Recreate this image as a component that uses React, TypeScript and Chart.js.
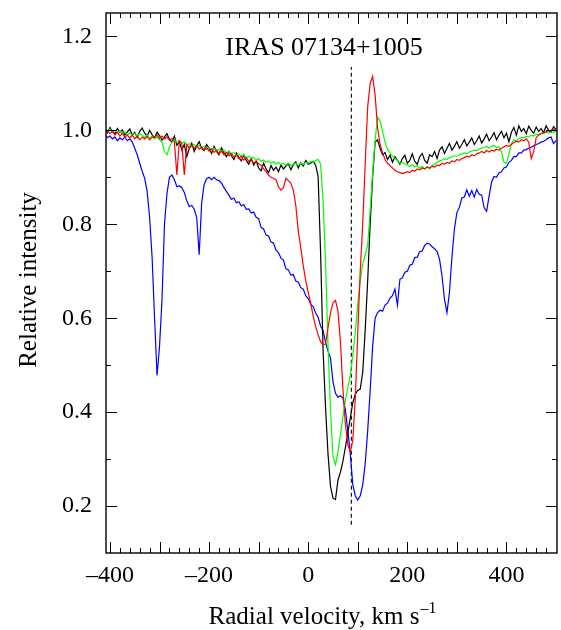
import React, { useEffect, useRef } from "react";
import { Chart, registerables } from "chart.js";

Chart.register(...registerables);

// Radial velocity grid, km/s
const VELOCITY = [
  -410, -405, -400, -395, -390, -385, -380, -375, -370, -365,
  -360, -355, -350, -345, -340, -335, -330, -325, -320, -315,
  -310, -305, -300, -295, -290, -285, -280, -275, -270, -265,
  -260, -255, -250, -245, -240, -235, -230, -225, -220, -215,
  -210, -205, -200, -195, -190, -185, -180, -175, -170, -165,
  -160, -155, -150, -145, -140, -135, -130, -125, -120, -115,
  -110, -105, -100, -95, -90, -85, -80, -75, -70, -65,
  -60, -55, -50, -45, -40, -35, -30, -25, -20, -15,
  -10, -5, 0, 5, 10, 15, 20, 25, 30, 35,
  40, 45, 50, 55, 60, 65, 70, 75, 80, 85,
  90, 95, 100, 105, 110, 115, 120, 125, 130, 135,
  140, 145, 150, 155, 160, 165, 170, 175, 180, 185,
  190, 195, 200, 205, 210, 215, 220, 225, 230, 235,
  240, 245, 250, 255, 260, 265, 270, 275, 280, 285,
  290, 295, 300, 305, 310, 315, 320, 325, 330, 335,
  340, 345, 350, 355, 360, 365, 370, 375, 380, 385,
  390, 395, 400, 405, 410, 415, 420, 425, 430, 435,
  440, 445, 450, 455, 460, 465, 470, 475, 480, 485,
  490, 495, 500,
];

const BLACK = [
  1.002, 0.995, 1.006, 0.997, 0.993, 1.004, 0.996, 1.001, 0.99, 0.997,
  1.003, 0.99, 0.996, 0.985, 0.998, 1.005, 0.994, 0.988, 1.0, 0.991,
  0.984, 0.996, 0.989, 0.979, 0.986, 0.993, 0.981, 0.975, 0.988, 0.968,
  0.976, 0.958, 0.97, 0.944, 0.962, 0.973, 0.955, 0.967, 0.976, 0.961,
  0.957, 0.97, 0.962, 0.951, 0.966, 0.955, 0.948, 0.963, 0.952, 0.944,
  0.955, 0.946, 0.938, 0.952, 0.942, 0.935, 0.948, 0.936, 0.928, 0.94,
  0.926, 0.935, 0.92, 0.914, 0.93, 0.918, 0.91, 0.925, 0.915, 0.922,
  0.912, 0.926, 0.918, 0.924, 0.929, 0.916, 0.927, 0.933, 0.92, 0.931,
  0.924, 0.936, 0.928, 0.93, 0.934, 0.926, 0.902, 0.74, 0.532, 0.41,
  0.31, 0.242, 0.217, 0.214, 0.255, 0.272, 0.295, 0.325, 0.356, 0.388,
  0.42, 0.438, 0.446, 0.449, 0.485, 0.575, 0.68, 0.8, 0.9, 0.975,
  0.98, 0.962, 0.948, 0.953, 0.938, 0.947, 0.932, 0.944, 0.936, 0.928,
  0.94, 0.947, 0.93, 0.936, 0.95, 0.934, 0.928, 0.944, 0.951, 0.936,
  0.93, 0.948, 0.944, 0.955, 0.94, 0.958, 0.965, 0.951, 0.962, 0.972,
  0.958, 0.966, 0.976, 0.962, 0.97, 0.98, 0.967, 0.975, 0.984, 0.97,
  0.978, 0.988, 0.973, 0.982, 0.992, 0.978, 0.986, 0.995, 0.98, 0.99,
  0.998, 0.984, 0.994, 0.976, 0.996, 1.006, 0.99, 1.01, 0.998, 1.004,
  0.993, 1.009, 1.0, 0.994, 1.007, 0.998, 1.004, 0.995, 1.01, 1.0,
  0.996, 1.008, 1.002,
];

const GREEN = [
  1.0, 0.997, 1.003, 0.996, 1.0, 0.995, 0.999, 0.993, 0.997, 0.99,
  0.995, 0.99, 0.994, 0.988, 0.993, 0.99, 0.985, 0.99, 0.984, 0.988,
  0.982, 0.986, 0.98, 0.975, 0.955, 0.948, 0.965, 0.975, 0.98, 0.975,
  0.978, 0.972, 0.976, 0.968, 0.972, 0.966, 0.97, 0.965, 0.968, 0.962,
  0.966, 0.96, 0.963, 0.96, 0.962, 0.956, 0.96, 0.955, 0.958, 0.952,
  0.955, 0.95, 0.953, 0.947, 0.95, 0.945, 0.948, 0.942, 0.945, 0.94,
  0.943, 0.937, 0.94, 0.934, 0.937, 0.932, 0.935, 0.93, 0.933, 0.928,
  0.932, 0.927, 0.93, 0.926, 0.93, 0.925, 0.928, 0.93, 0.926, 0.93,
  0.928, 0.932, 0.93, 0.934, 0.932, 0.936, 0.938, 0.928, 0.85, 0.72,
  0.54, 0.405, 0.305, 0.288, 0.315, 0.352, 0.39, 0.425, 0.452, 0.48,
  0.52, 0.57, 0.63, 0.68, 0.715, 0.735, 0.755, 0.83, 0.91, 0.98,
  1.028, 1.02, 0.998, 0.975, 0.96, 0.952, 0.945, 0.94, 0.936, 0.93,
  0.932, 0.928, 0.926, 0.923, 0.927, 0.922, 0.925, 0.92, 0.923, 0.918,
  0.922, 0.918, 0.925, 0.928, 0.932, 0.935, 0.937, 0.94, 0.938, 0.942,
  0.944, 0.946, 0.945, 0.948, 0.95, 0.952, 0.95, 0.954, 0.956, 0.958,
  0.957, 0.96, 0.962, 0.964, 0.966, 0.962, 0.966, 0.968, 0.964, 0.965,
  0.955, 0.932, 0.93, 0.95, 0.972, 0.98, 0.978, 0.982, 0.985, 0.984,
  0.987, 0.986, 0.99, 0.988, 0.992, 0.99, 0.994, 0.993, 0.996, 0.994,
  0.997, 0.996, 0.998,
];

const RED = [
  0.995, 1.0, 0.993, 0.998, 0.99, 0.996, 0.988, 0.994, 0.985, 0.99,
  0.984, 0.99, 0.982, 0.988, 0.98, 0.986, 0.982, 0.987, 0.98, 0.985,
  0.985, 0.99, 0.983, 0.988, 0.982, 0.986, 0.979, 0.983, 0.976, 0.905,
  0.978, 0.972, 0.905, 0.97, 0.962, 0.968, 0.962, 0.967, 0.96, 0.965,
  0.958, 0.963, 0.956, 0.96, 0.953, 0.958, 0.951, 0.956, 0.948, 0.953,
  0.946, 0.951, 0.943, 0.948, 0.94, 0.945, 0.937, 0.942, 0.934, 0.939,
  0.93, 0.934, 0.929, 0.926, 0.918, 0.912, 0.905, 0.9, 0.898, 0.895,
  0.88, 0.873, 0.878, 0.898, 0.893, 0.888, 0.872, 0.84, 0.785, 0.75,
  0.712, 0.68, 0.655, 0.632, 0.605, 0.582, 0.565, 0.55, 0.544, 0.545,
  0.58, 0.612, 0.633, 0.638, 0.615, 0.55, 0.45, 0.375, 0.33, 0.316,
  0.34, 0.43, 0.57, 0.7, 0.8, 0.93, 1.05, 1.1, 1.115, 1.075,
  1.005, 0.97, 0.952, 0.938, 0.93, 0.925, 0.92, 0.915, 0.912, 0.91,
  0.908, 0.91, 0.912, 0.91, 0.915, 0.913, 0.918, 0.916, 0.92, 0.918,
  0.922, 0.92, 0.924, 0.922, 0.926, 0.925, 0.93, 0.928, 0.932, 0.93,
  0.935, 0.933, 0.938, 0.936, 0.94, 0.942, 0.945, 0.943, 0.948, 0.946,
  0.95, 0.952, 0.955, 0.952, 0.957, 0.954, 0.958, 0.956, 0.96, 0.958,
  0.962, 0.965, 0.968, 0.966, 0.97, 0.974, 0.977, 0.975, 0.98, 0.978,
  0.982, 0.975, 0.94, 0.955, 0.985, 0.99, 0.993, 0.995, 0.997, 0.999,
  1.0, 1.002, 1.0,
];

const BLUE = [
  0.99, 0.985, 0.988, 0.982, 0.986, 0.978, 0.984, 0.98, 0.986, 0.978,
  0.982, 0.975, 0.962, 0.948, 0.93, 0.913, 0.898, 0.87, 0.815, 0.73,
  0.6, 0.478, 0.54, 0.64, 0.8, 0.865, 0.9, 0.905, 0.895, 0.88,
  0.882, 0.878, 0.868, 0.85, 0.838, 0.84, 0.832, 0.815, 0.735, 0.845,
  0.885, 0.897, 0.9, 0.895, 0.9, 0.895, 0.893, 0.888, 0.878, 0.87,
  0.862, 0.853, 0.856, 0.846, 0.848, 0.839, 0.842, 0.832, 0.833, 0.824,
  0.826, 0.815, 0.812, 0.793, 0.79, 0.777, 0.775, 0.762, 0.76, 0.745,
  0.74, 0.728, 0.724, 0.705, 0.703, 0.692, 0.693, 0.679, 0.677, 0.665,
  0.662, 0.648, 0.642, 0.63, 0.625, 0.611, 0.602, 0.583, 0.574, 0.548,
  0.53, 0.515, 0.465, 0.44, 0.432, 0.435, 0.43, 0.405, 0.36, 0.31,
  0.245, 0.222, 0.213, 0.222, 0.245, 0.29, 0.36, 0.445, 0.54, 0.6,
  0.612, 0.617, 0.615, 0.628, 0.632, 0.643, 0.648, 0.662, 0.628, 0.683,
  0.686, 0.698, 0.7, 0.713, 0.715, 0.729, 0.73, 0.742, 0.743, 0.755,
  0.76, 0.758, 0.752, 0.748, 0.742, 0.726, 0.69, 0.64, 0.612, 0.655,
  0.73, 0.79, 0.825, 0.836, 0.856, 0.858, 0.873, 0.86, 0.872, 0.858,
  0.874, 0.864, 0.862, 0.835, 0.828, 0.86, 0.89, 0.902, 0.9, 0.91,
  0.912, 0.92, 0.922, 0.932, 0.936, 0.944, 0.944, 0.952, 0.952, 0.958,
  0.959, 0.962, 0.964, 0.967, 0.97, 0.972, 0.975, 0.977, 0.98, 0.984,
  0.986, 0.972, 0.978,
];

// Vertical dashed marker (systemic velocity)
const MARKER_VELOCITY = 87;
const MARKER_RANGE = [0.16, 1.135];

const X_TICKS = [-400, -200, 0, 200, 400];
const Y_TICKS = [0.2, 0.4, 0.6, 0.8, 1.0, 1.2];

const TITLE = "IRAS 07134+1005";
const X_TITLE = "Radial velocity, km s";
const X_TITLE_SUP = "\u20131";
const Y_TITLE = "Relative intensity";

const FONT = "'Liberation Serif', 'Times New Roman', serif";

const series = (vals: number[]) =>
  VELOCITY.map((v, i) => ({ x: v, y: vals[i] })).filter((p) => p.y !== undefined);

const frameAndText = {
  id: "frameAndText",
  afterDatasetsDraw(chart: any) {
    const { ctx, chartArea: a, scales } = chart;
    const x = scales.x;
    const y = scales.y;
    ctx.save();
    ctx.strokeStyle = "#000";
    ctx.lineWidth = 1.4;
    ctx.strokeRect(a.left, a.top, a.right - a.left, a.bottom - a.top);
    ctx.lineWidth = 1;
    // x tick marks (inward, top and bottom)
    for (let k = -20; k <= 25; k++) {
      const v = k * 20;
      const px = Math.round(x.getPixelForValue(v)) + 0.5;
      if (px < a.left + 1 || px > a.right - 1) continue;
      const len = k % 5 === 0 ? 11 : 5;
      ctx.beginPath();
      ctx.moveTo(px, a.bottom);
      ctx.lineTo(px, a.bottom - len);
      ctx.moveTo(px, a.top);
      ctx.lineTo(px, a.top + len);
      ctx.stroke();
    }
    // y tick marks (inward, left and right)
    for (let k = 2; k <= 12; k++) {
      const py = Math.round(y.getPixelForValue(k / 10)) + 0.5;
      const len = k % 2 === 0 ? 11 : 5;
      ctx.beginPath();
      ctx.moveTo(a.left, py);
      ctx.lineTo(a.left + len, py);
      ctx.moveTo(a.right, py);
      ctx.lineTo(a.right - len, py);
      ctx.stroke();
    }
    // inner title
    ctx.fillStyle = "#000";
    ctx.font = `26px ${FONT}`;
    ctx.textAlign = "center";
    ctx.textBaseline = "alphabetic";
    ctx.fillText(TITLE, x.getPixelForValue(32), y.getPixelForValue(1.16));
    // x axis title with superscript
    ctx.font = `25px ${FONT}`;
    const w1 = ctx.measureText(X_TITLE).width;
    ctx.font = `16px ${FONT}`;
    const w2 = ctx.measureText(X_TITLE_SUP).width;
    const startX = 322 - (w1 + w2) / 2;
    ctx.textAlign = "left";
    ctx.font = `25px ${FONT}`;
    ctx.fillText(X_TITLE, startX, 624);
    ctx.font = `16px ${FONT}`;
    ctx.fillText(X_TITLE_SUP, startX + w1 + 1, 613);
    // y axis title
    ctx.translate(36, 280);
    ctx.rotate(-Math.PI / 2);
    ctx.font = `25px ${FONT}`;
    ctx.textAlign = "center";
    ctx.fillText(Y_TITLE, 0, 0);
    ctx.restore();
  },
};

export default function App() {
  const ref = useRef<HTMLCanvasElement>(null);
  useEffect(() => {
    document.body.style.margin = "0";
    const canvas = ref.current!;
    const line = (label: string, vals: number[], color: string) => ({
      label,
      data: series(vals),
      borderColor: color,
      backgroundColor: color,
      borderWidth: 1.2,
      pointRadius: 0,
      tension: 0,
      fill: false,
    });
    const chart = new Chart(canvas, {
      type: "line",
      data: {
        datasets: [
          line("red", RED, "#ff0000"),
          line("green", GREEN, "#00ff00"),
          line("black", BLACK, "#000000"),
          line("blue", BLUE, "#0000ff"),
          {
            label: "marker",
            data: [
              { x: MARKER_VELOCITY, y: MARKER_RANGE[0] },
              { x: MARKER_VELOCITY, y: MARKER_RANGE[1] },
            ],
            borderColor: "#000",
            borderWidth: 1.1,
            borderDash: [4, 3],
            pointRadius: 0,
            fill: false,
          },
        ] as any,
      },
      options: {
        responsive: false,
        animation: false,
        events: [],
        layout: { padding: { left: 0, right: 4, top: 13, bottom: 0 } },
        plugins: {
          legend: { display: false },
          title: { display: false },
          tooltip: { enabled: false },
        },
        scales: {
          x: {
            type: "linear",
            min: -408,
            max: 502,
            grid: { display: false, drawTicks: false },
            border: { display: false },
            afterBuildTicks: (s: any) => {
              s.ticks = X_TICKS.map((v) => ({ value: v }));
            },
            afterFit: (s: any) => {
              s.height = 77;
              s.paddingLeft = 0;
              s.paddingRight = 0;
            },
            ticks: {
              color: "#000",
              padding: 8,
              maxRotation: 0,
              autoSkip: false,
              font: { family: FONT, size: 24 },
              callback: (v: any) => (v < 0 ? "\u2013" + Math.abs(v) : String(v)),
            },
          },
          y: {
            type: "linear",
            min: 0.1,
            max: 1.25,
            grid: { display: false, drawTicks: false },
            border: { display: false },
            afterBuildTicks: (s: any) => {
              s.ticks = Y_TICKS.map((v) => ({ value: v }));
            },
            afterFit: (s: any) => {
              s.width = 106;
              s.paddingTop = 0;
              s.paddingBottom = 0;
            },
            ticks: {
              color: "#000",
              padding: 14,
              autoSkip: false,
              font: { family: FONT, size: 24 },
              callback: (v: any) => Number(v).toFixed(1),
            },
          },
        },
      },
      plugins: [frameAndText],
    });
    return () => chart.destroy();
  }, []);
  return <canvas ref={ref} width={561} height={630} style={{ display: "block" }} />;
}
